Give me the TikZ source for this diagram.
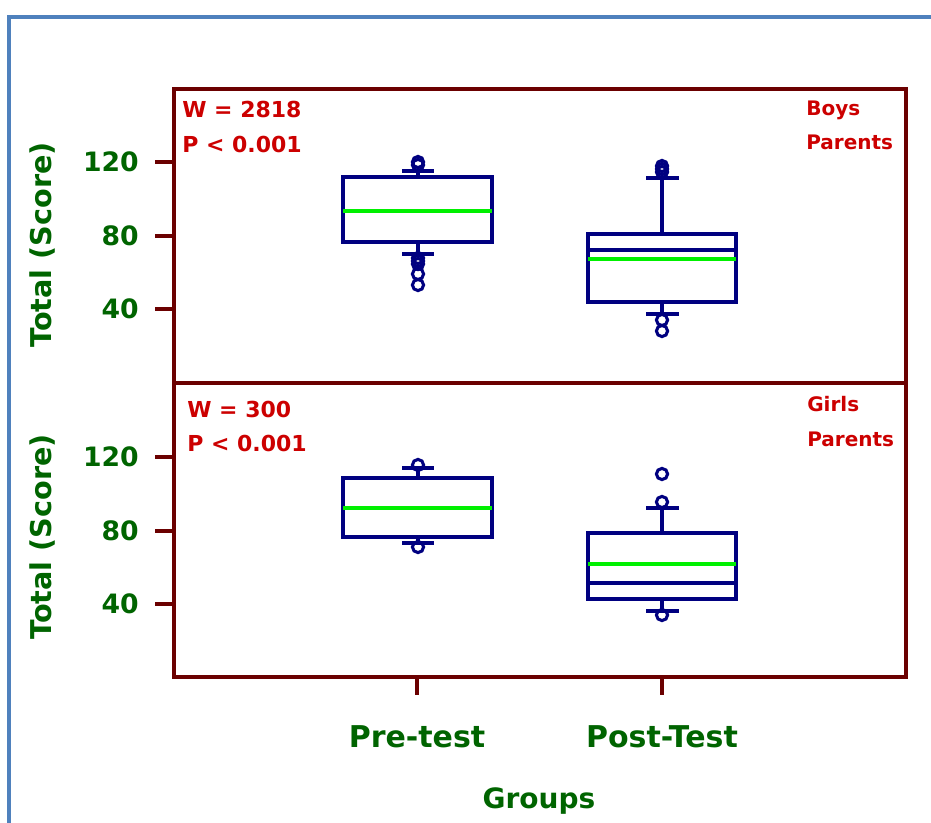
\documentclass[tikz,border=0pt]{standalone}
\usepackage{fontspec}
\setmainfont{DejaVu Sans}
\definecolor{maroonc}{RGB}{107,0,0}
\definecolor{navyc}{RGB}{0,0,128}
\definecolor{limec}{RGB}{0,240,0}
\definecolor{textgreen}{RGB}{0,100,0}
\definecolor{textred}{RGB}{204,0,0}
\definecolor{frameblue}{RGB}{79,129,189}
\begin{document}
\begin{tikzpicture}[x=0.75pt,y=-0.75pt,
  panel/.style={draw=maroonc,line width=3pt},
  tickln/.style={draw=maroonc,line width=2.6pt},
  bx/.style={draw=navyc,line width=2.6pt},
  wh/.style={draw=navyc,line width=2.6pt},
  meanln/.style={draw=limec,line width=3pt},
  outl/.style={draw=navyc,line width=2.3pt},
  ticklab/.style={text=textgreen,font=\bfseries\fontsize{20}{20}\selectfont,anchor=east,inner sep=0pt},
  axlab/.style={text=textgreen,font=\bfseries\fontsize{21.5}{21.5}\selectfont,rotate=90,inner sep=0pt},
  grplab/.style={text=textgreen,font=\bfseries\fontsize{22.5}{22.5}\selectfont,anchor=base,inner sep=0pt},
  stat/.style={text=textred,font=\bfseries\fontsize{16.5}{16.5}\selectfont,anchor=base west,inner sep=0pt},
  tag/.style={text=textred,font=\bfseries\fontsize{15}{15}\selectfont,anchor=base west,inner sep=0pt}]
\useasboundingbox (0,0) rectangle (931,823);
% outer blue frame
\draw[frameblue,line width=2.4pt] (9,830) -- (9,17) -- (940,17);
% panels
\draw[panel] (174,89) rectangle (906,677);
\draw[panel] (174,383) -- (906,383);
% y ticks
\foreach \y in {162,236,309,457,531,604} {\draw[tickln] (155,\y) -- (174,\y);}
% x ticks
\foreach \x in {417,662} {\draw[tickln] (\x,677) -- (\x,695);}
% tick labels
\node[ticklab] (t1) at (139,162) {120};
\node[ticklab] (t2) at (139,236) {80};
\node[ticklab] (t3) at (139,309) {40};
\node[ticklab] (t4) at (139,457) {120};
\node[ticklab] (t5) at (139,531) {80};
\node[ticklab] (t6) at (139,604) {40};
\node[axlab] (yl1) at (42,245) {Total (Score)};
\node[axlab] (yl2) at (42,537) {Total (Score)};
\node[grplab] (g1) at (417,747) {Pre-test};
\node[grplab] (g2) at (662,747) {Post-Test};
\node[grplab,font=\bfseries\fontsize{21}{21}\selectfont] (gx) at (539,808) {Groups};
% stats
\node[stat] (w1) at (182,118) {W = 2818};
\node[stat] (p1) at (182,153) {P < 0.001};
\node[stat] (w2) at (187,417) {W = 300};
\node[stat] (p2) at (187,451) {P < 0.001};
\node[tag] (b1) at (806,116) {Boys};
\node[tag] (b2) at (806,150) {Parents};
\node[tag] (c1) at (807,411) {Girls};
\node[tag] (c2) at (807,446) {Parents};
% ---- top panel, pre-test
\draw[wh] (418,177) -- (418,171) (402,171) -- (434,171);
\draw[wh] (418,242) -- (418,254) (402,254) -- (434,254);
\draw[bx] (343,177) rectangle (492,242);
\draw[meanln] (343,211) -- (492,211);
\foreach \y in {162,165} {\draw[outl] (418,\y) circle (4.2pt);}
\foreach \y in {258,261,264,274,285} {\draw[outl] (418,\y) circle (4.2pt);}
% ---- top panel, post-test
\draw[wh] (662,234) -- (662,178) (646,178) -- (679,178);
\draw[wh] (662,302) -- (662,314) (646,314) -- (679,314);
\draw[bx] (588,234) rectangle (736,302);
\draw[bx] (588,250) -- (736,250);
\draw[meanln] (588,259) -- (736,259);
\foreach \y in {166,169,172} {\draw[outl] (662,\y) circle (4.2pt);}
\foreach \y in {320,331} {\draw[outl] (662,\y) circle (4.2pt);}
% ---- bottom panel, pre-test
\draw[wh] (418,478) -- (418,468) (402,468) -- (434,468);
\draw[wh] (418,537) -- (418,543) (402,543) -- (434,543);
\draw[bx] (343,478) rectangle (492,537);
\draw[meanln] (343,508) -- (492,508);
\draw[outl] (418,465) circle (4.2pt);
\draw[outl] (418,547) circle (4.2pt);
% ---- bottom panel, post-test
\draw[wh] (662,533) -- (662,508) (646,508) -- (679,508);
\draw[wh] (662,599) -- (662,611) (646,611) -- (679,611);
\draw[bx] (588,533) rectangle (736,599);
\draw[bx] (588,583) -- (736,583);
\draw[meanln] (588,564) -- (736,564);
\draw[outl] (662,474) circle (4.2pt);
\draw[outl] (662,502) circle (4.2pt);
\draw[outl] (662,615) circle (4.2pt);
\end{tikzpicture}
\end{document}
